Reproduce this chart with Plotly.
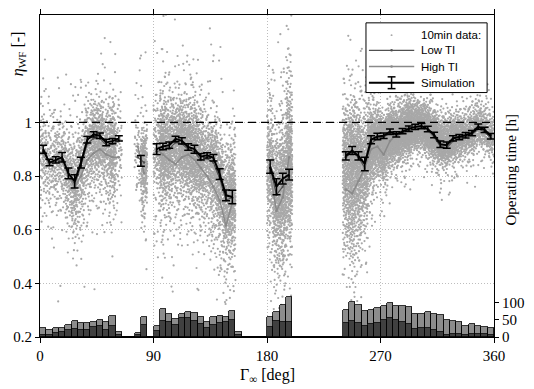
import plotly.graph_objects as go
from statistics import NormalDist

# ---------------- data ----------------
# 5-degree direction bins
bin_centers = [2.5 + 5 * i for i in range(72)]

N = None
# operating time per bin [h]: low-TI (dark) and high-TI (light, stacked on top)
hours_low = [6, 7, 12, 14, 19, 23, 19, 21, 29, 31, 21, 32, 7,
             0, 0, 5, 34, 0,
             17, 48, 45, 35, 54, 54, 48, 38, 25, 36, 40, 44, 50, 7,
             0, 0, 0, 0,
             29, 46, 43, 43,
             0, 0, 0, 0, 0, 0, 0, 0,
             40, 48, 41, 33, 38, 41, 50, 54, 50, 43, 38, 24, 26, 27, 19, 14, 7, 8, 10, 7, 10, 8, 8, 7]
hours_high = [19, 14, 15, 11, 16, 24, 23, 20, 16, 19, 22, 30, 8,
              0, 0, 8, 25, 0,
              15, 34, 22, 18, 13, 18, 22, 21, 19, 23, 20, 15, 27, 8,
              0, 0, 0, 0,
              30, 27, 50, 74,
              0, 0, 0, 0, 0, 0, 0, 0,
              38, 55, 51, 43, 42, 43, 40, 44, 40, 47, 50, 43, 41, 46, 48, 50, 43, 40, 33, 26, 28, 25, 22, 20]

# bin-averaged wind farm efficiency for low / high turbulence intensity
low_ti = [0.89, 0.85, 0.855, 0.86, 0.80, 0.77, 0.84, 0.92, 0.94, 0.94, 0.915, 0.92, 0.93,
          N, N, 0.87, 0.85, N,
          0.89, 0.90, 0.90, 0.925, 0.92, 0.90, 0.89, 0.86, 0.865, 0.85, 0.79, 0.71, 0.72, N,
          N, N, N, N,
          0.83, 0.73, 0.76, 0.80,
          N, N, N, N, N, N, N, N,
          0.87, 0.89, 0.87, 0.83, 0.92, 0.94, 0.945, 0.96, 0.95, 0.96, 0.97, 0.975,
          0.98, 0.97, 0.945, 0.91, 0.905, 0.93, 0.94, 0.945, 0.955, 0.975, 0.965, 0.94]
high_ti = [0.88, 0.84, 0.85, 0.855, 0.80, 0.76, 0.80, 0.86, 0.885, 0.90, 0.88, 0.87, 0.87,
           N, N, 0.91, 0.81, N,
           0.90, 0.88, 0.86, 0.845, 0.87, 0.88, 0.86, 0.83, 0.80, 0.76, 0.71, 0.615, 0.70, N,
           N, N, N, N,
           0.81, 0.67, 0.72, 0.87,
           N, N, N, N, N, N, N, N,
           0.75, 0.735, 0.78, 0.83, 0.90, 0.91, 0.88, 0.93, 0.955, 0.97, 0.985, 0.99,
           0.985, 0.97, 0.95, 0.93, 0.925, 0.94, 0.95, 0.955, 0.965, 0.99, 0.975, 0.955]
# spread of the 10-min cloud in each bin (high-TI samples; low-TI samples are tighter)
cloud_sd = [0.11] * 13 + [0.11] * 5 + [0.14] * 11 + [0.15] * 3 + [0.15] * 4 + [0.17] * 4 + [0.15] * 8 + \
           [0.16, 0.16, 0.15, 0.13, 0.10, 0.07, 0.06, 0.06, 0.06, 0.06, 0.06, 0.05,
            0.05, 0.05, 0.05, 0.05, 0.05, 0.05, 0.05, 0.05, 0.05, 0.05, 0.05, 0.05]

# simulation results
sim_dir = [2.5, 7.5, 12.5, 17.5, 22.5, 27.5, 32.5, 37.5, 42.5, 47.5, 52.5, 57.5, 62.5,
           80.0,
           92.5, 97.5, 102.5, 107.5, 112.5, 117.5, 122.5, 127.5, 132.5, 137.5, 142.5, 147.5, 152.5,
           182.5, 187.5, 192.5, 197.5,
           242.5, 247.5, 252.5, 257.5, 262.5, 267.5, 272.5, 277.5, 282.5, 287.5, 292.5, 297.5,
           302.5, 307.5, 312.5, 317.5, 322.5, 327.5, 332.5, 337.5, 342.5, 347.5, 352.5, 357.5]
sim_eta = [0.90, 0.85, 0.86, 0.87, 0.81, 0.78, 0.85, 0.935, 0.955, 0.95, 0.925, 0.93, 0.94,
           0.856,
           0.90, 0.91, 0.915, 0.938, 0.931, 0.908, 0.90, 0.872, 0.877, 0.868, 0.807, 0.728, 0.722,
           0.835, 0.76, 0.79, 0.805,
           0.875, 0.895, 0.875, 0.845, 0.935, 0.947, 0.95, 0.965, 0.955, 0.967, 0.976, 0.983,
           0.986, 0.975, 0.953, 0.918, 0.915, 0.94, 0.945, 0.952, 0.96, 0.984, 0.972, 0.948]
sim_err = [0.015, 0.012, 0.012, 0.018, 0.02, 0.025, 0.02, 0.012, 0.01, 0.01, 0.012, 0.01, 0.01,
           0.02,
           0.02, 0.012, 0.012, 0.01, 0.012, 0.012, 0.015, 0.012, 0.01, 0.012, 0.02, 0.02, 0.025,
           0.025, 0.03, 0.02, 0.02,
           0.015, 0.015, 0.015, 0.025, 0.015, 0.012, 0.01, 0.01, 0.01, 0.01, 0.01, 0.01,
           0.01, 0.01, 0.01, 0.012, 0.012, 0.01, 0.01, 0.01, 0.01, 0.01, 0.01, 0.01]

x_ticks = [0, 90, 180, 270, 360]
y_ticks = [0.2, 0.4, 0.6, 0.8, 1.0]
y_ticklabels = ["0.2", "0.4", "0.6", "0.8", "1"]
h_ticks = [0, 50, 100]
legend_labels = ["10min data:", "Low TI", "High TI", "Simulation"]


# ---------------- 10-min cloud: spread deterministically (Halton) around the bin values ----------------
def halton(k, base):
    f, r = 1.0, 0.0
    while k > 0:
        f /= base
        r += f * (k % base)
        k //= base
    return r


SAMPLES_PER_HOUR = 4
nd = NormalDist()
cx, cy = [], []
for i, c in enumerate(bin_centers):
    for t, (hours, centre, sd) in enumerate(((hours_low[i], low_ti[i], 0.6 * cloud_sd[i]),
                                             (hours_high[i], high_ti[i], cloud_sd[i]))):
        if centre is None or hours == 0:
            continue
        n = int(round(hours * SAMPLES_PER_HOUR))
        start = 1 + 409 * i + 7919 * t
        for j in range(n):
            k = start + j
            u = halton(k, 2)
            v = min(max(halton(k, 3), 0.002), 0.998)
            s = sd * (2.1 if halton(k, 5) < 0.1 else 1.0)
            cx.append(c - 2.5 + 5.0 * u)
            cy.append(centre + s * nd.inv_cdf(v))

CLOUD_C, LOW_C, HIGH_C = "#a8a8a8", "#505050", "#8a8a8a"

fig = go.Figure()
fig.add_trace(go.Scatter(x=cx, y=cy, mode="markers", name=legend_labels[0], showlegend=False,
                         marker=dict(size=2.2, color=CLOUD_C, line=dict(width=0))))
fig.add_trace(go.Scatter(x=bin_centers, y=low_ti, mode="lines+markers", name=legend_labels[1],
                         showlegend=False,
                         line=dict(color=LOW_C, width=1.2), marker=dict(size=2.5, color=LOW_C),
                         connectgaps=False))
fig.add_trace(go.Scatter(x=bin_centers, y=high_ti, mode="lines+markers", name=legend_labels[2],
                         showlegend=False,
                         line=dict(color=HIGH_C, width=1.5), marker=dict(size=2.5, color=HIGH_C),
                         connectgaps=False))
sim_x, sim_y, sim_e = [], [], []
for k in range(len(sim_dir)):
    if k > 0 and sim_dir[k] - sim_dir[k - 1] > 6:
        sim_x.append(None); sim_y.append(None); sim_e.append(None)
    sim_x.append(sim_dir[k]); sim_y.append(sim_eta[k]); sim_e.append(sim_err[k])
fig.add_trace(go.Scatter(x=sim_x, y=sim_y, mode="lines", name=legend_labels[3], showlegend=False,
                         line=dict(color="black", width=2),
                         error_y=dict(type="data", array=sim_e, color="black", thickness=1.5, width=4),
                         connectgaps=False))
fig.add_trace(go.Bar(x=bin_centers, y=hours_low, yaxis="y2", width=5, showlegend=False,
                     marker=dict(color="#404040", line=dict(color="black", width=0.8))))
fig.add_trace(go.Bar(x=bin_centers, y=hours_high, yaxis="y2", width=5, showlegend=False,
                     marker=dict(color="#8c8c8c", line=dict(color="black", width=0.8))))

fig.add_shape(type="line", xref="x", yref="y", x0=0, x1=360, y0=1, y1=1,
              line=dict(color="black", width=1.2, dash="8px,5px"), layer="above")

# ---------------- legend box drawn in pixel-like paper coordinates ----------------
W, H = 534, 389
ML, MR, MT, MB = 40, 33, 9, 52
PW, PH = W - ML - MR, H - MT - MB


def PX(px):
    return (px - ML) / PW


def PY(py):
    return (H - MB - py) / PH


fig.add_shape(type="rect", xref="paper", yref="paper", x0=PX(371), x1=PX(494), y0=PY(88), y1=PY(17),
              line=dict(color="black", width=1), fillcolor="white", layer="above")
rows = [29.5, 45, 61.5, 78]
x_a, x_b, x_m, x_t = 374, 420, 397, 426
fig.add_shape(type="circle", xref="paper", yref="paper", x0=PX(x_m - 1), x1=PX(x_m + 1),
              y0=PY(rows[0] + 1), y1=PY(rows[0] - 1), line=dict(width=0), fillcolor=CLOUD_C, layer="above")
for r, col, lw in ((rows[1], LOW_C, 1.2), (rows[2], HIGH_C, 1.5)):
    fig.add_shape(type="line", xref="paper", yref="paper", x0=PX(x_a), x1=PX(x_b), y0=PY(r), y1=PY(r),
                  line=dict(color=col, width=lw), layer="above")
    fig.add_shape(type="circle", xref="paper", yref="paper", x0=PX(x_m - 1.3), x1=PX(x_m + 1.3),
                  y0=PY(r + 1.3), y1=PY(r - 1.3), line=dict(width=0), fillcolor=col, layer="above")
r = rows[3]
fig.add_shape(type="line", xref="paper", yref="paper", x0=PX(x_a), x1=PX(x_b), y0=PY(r), y1=PY(r),
              line=dict(color="black", width=2), layer="above")
fig.add_shape(type="line", xref="paper", yref="paper", x0=PX(x_m), x1=PX(x_m), y0=PY(r + 6), y1=PY(r - 6),
              line=dict(color="black", width=1.5), layer="above")
for dy in (-6, 6):
    fig.add_shape(type="line", xref="paper", yref="paper", x0=PX(x_m - 4), x1=PX(x_m + 4),
                  y0=PY(r + dy), y1=PY(r + dy), line=dict(color="black", width=1.5), layer="above")
for lbl, r in zip(legend_labels, rows):
    fig.add_annotation(text=lbl, xref="paper", yref="paper", x=PX(x_t), y=PY(r), showarrow=False,
                       xanchor="left", yanchor="middle", xshift=-1,
                       font=dict(family="Liberation Sans", size=11.5, color="black"))

axis_font = dict(family="Liberation Serif", size=15, color="black")
fig.update_layout(
    width=W, height=H,
    margin=dict(l=ML, r=MR, t=MT, b=MB),
    paper_bgcolor="white", plot_bgcolor="white",
    font=axis_font,
    barmode="stack", bargap=0,
    showlegend=False,
    xaxis=dict(range=[0, 360], tickvals=x_ticks, ticks="outside", ticklen=5, tickcolor="black",
               showline=True, linecolor="black", linewidth=1, mirror="ticks",
               showgrid=True, gridcolor="#bdbdbd", griddash="1px,2px", gridwidth=1,
               zeroline=False, tickfont=axis_font),
    yaxis=dict(range=[0.2, 1.4], tickvals=y_ticks, ticktext=y_ticklabels, ticks="outside", ticklen=4,
               tickcolor="black", showline=True, linecolor="black", linewidth=1, mirror=True,
               showgrid=True, gridcolor="#bdbdbd", griddash="1px,2px", gridwidth=1,
               zeroline=False, tickfont=axis_font),
    yaxis2=dict(range=[0, 937], tickvals=h_ticks, overlaying="y", side="right", ticks="outside",
                ticklen=4, tickcolor="black", showline=True, linecolor="black", linewidth=1,
                showgrid=False, zeroline=False, tickfont=axis_font),
)

fig.add_annotation(text="<i>η</i><sub>WF</sub> [-]", xref="paper", yref="paper", x=0, y=0.878,
                   xshift=-22, textangle=-90, showarrow=False, xanchor="center", yanchor="middle",
                   font=dict(family="Liberation Serif", size=16, color="black"))
fig.add_annotation(text="Operating time [h]", xref="paper", yref="paper", x=1, y=0.52,
                   xshift=17, textangle=-90, showarrow=False, xanchor="center", yanchor="middle",
                   font=dict(family="Liberation Serif", size=15, color="black"))
fig.add_annotation(text="Γ<sub>∞</sub> [deg]", xref="x", yref="paper", x=180, y=0,
                   yshift=-38, showarrow=False, xanchor="center", yanchor="middle",
                   font=dict(family="Liberation Serif", size=16, color="black"))

fig.write_html("out.html")
